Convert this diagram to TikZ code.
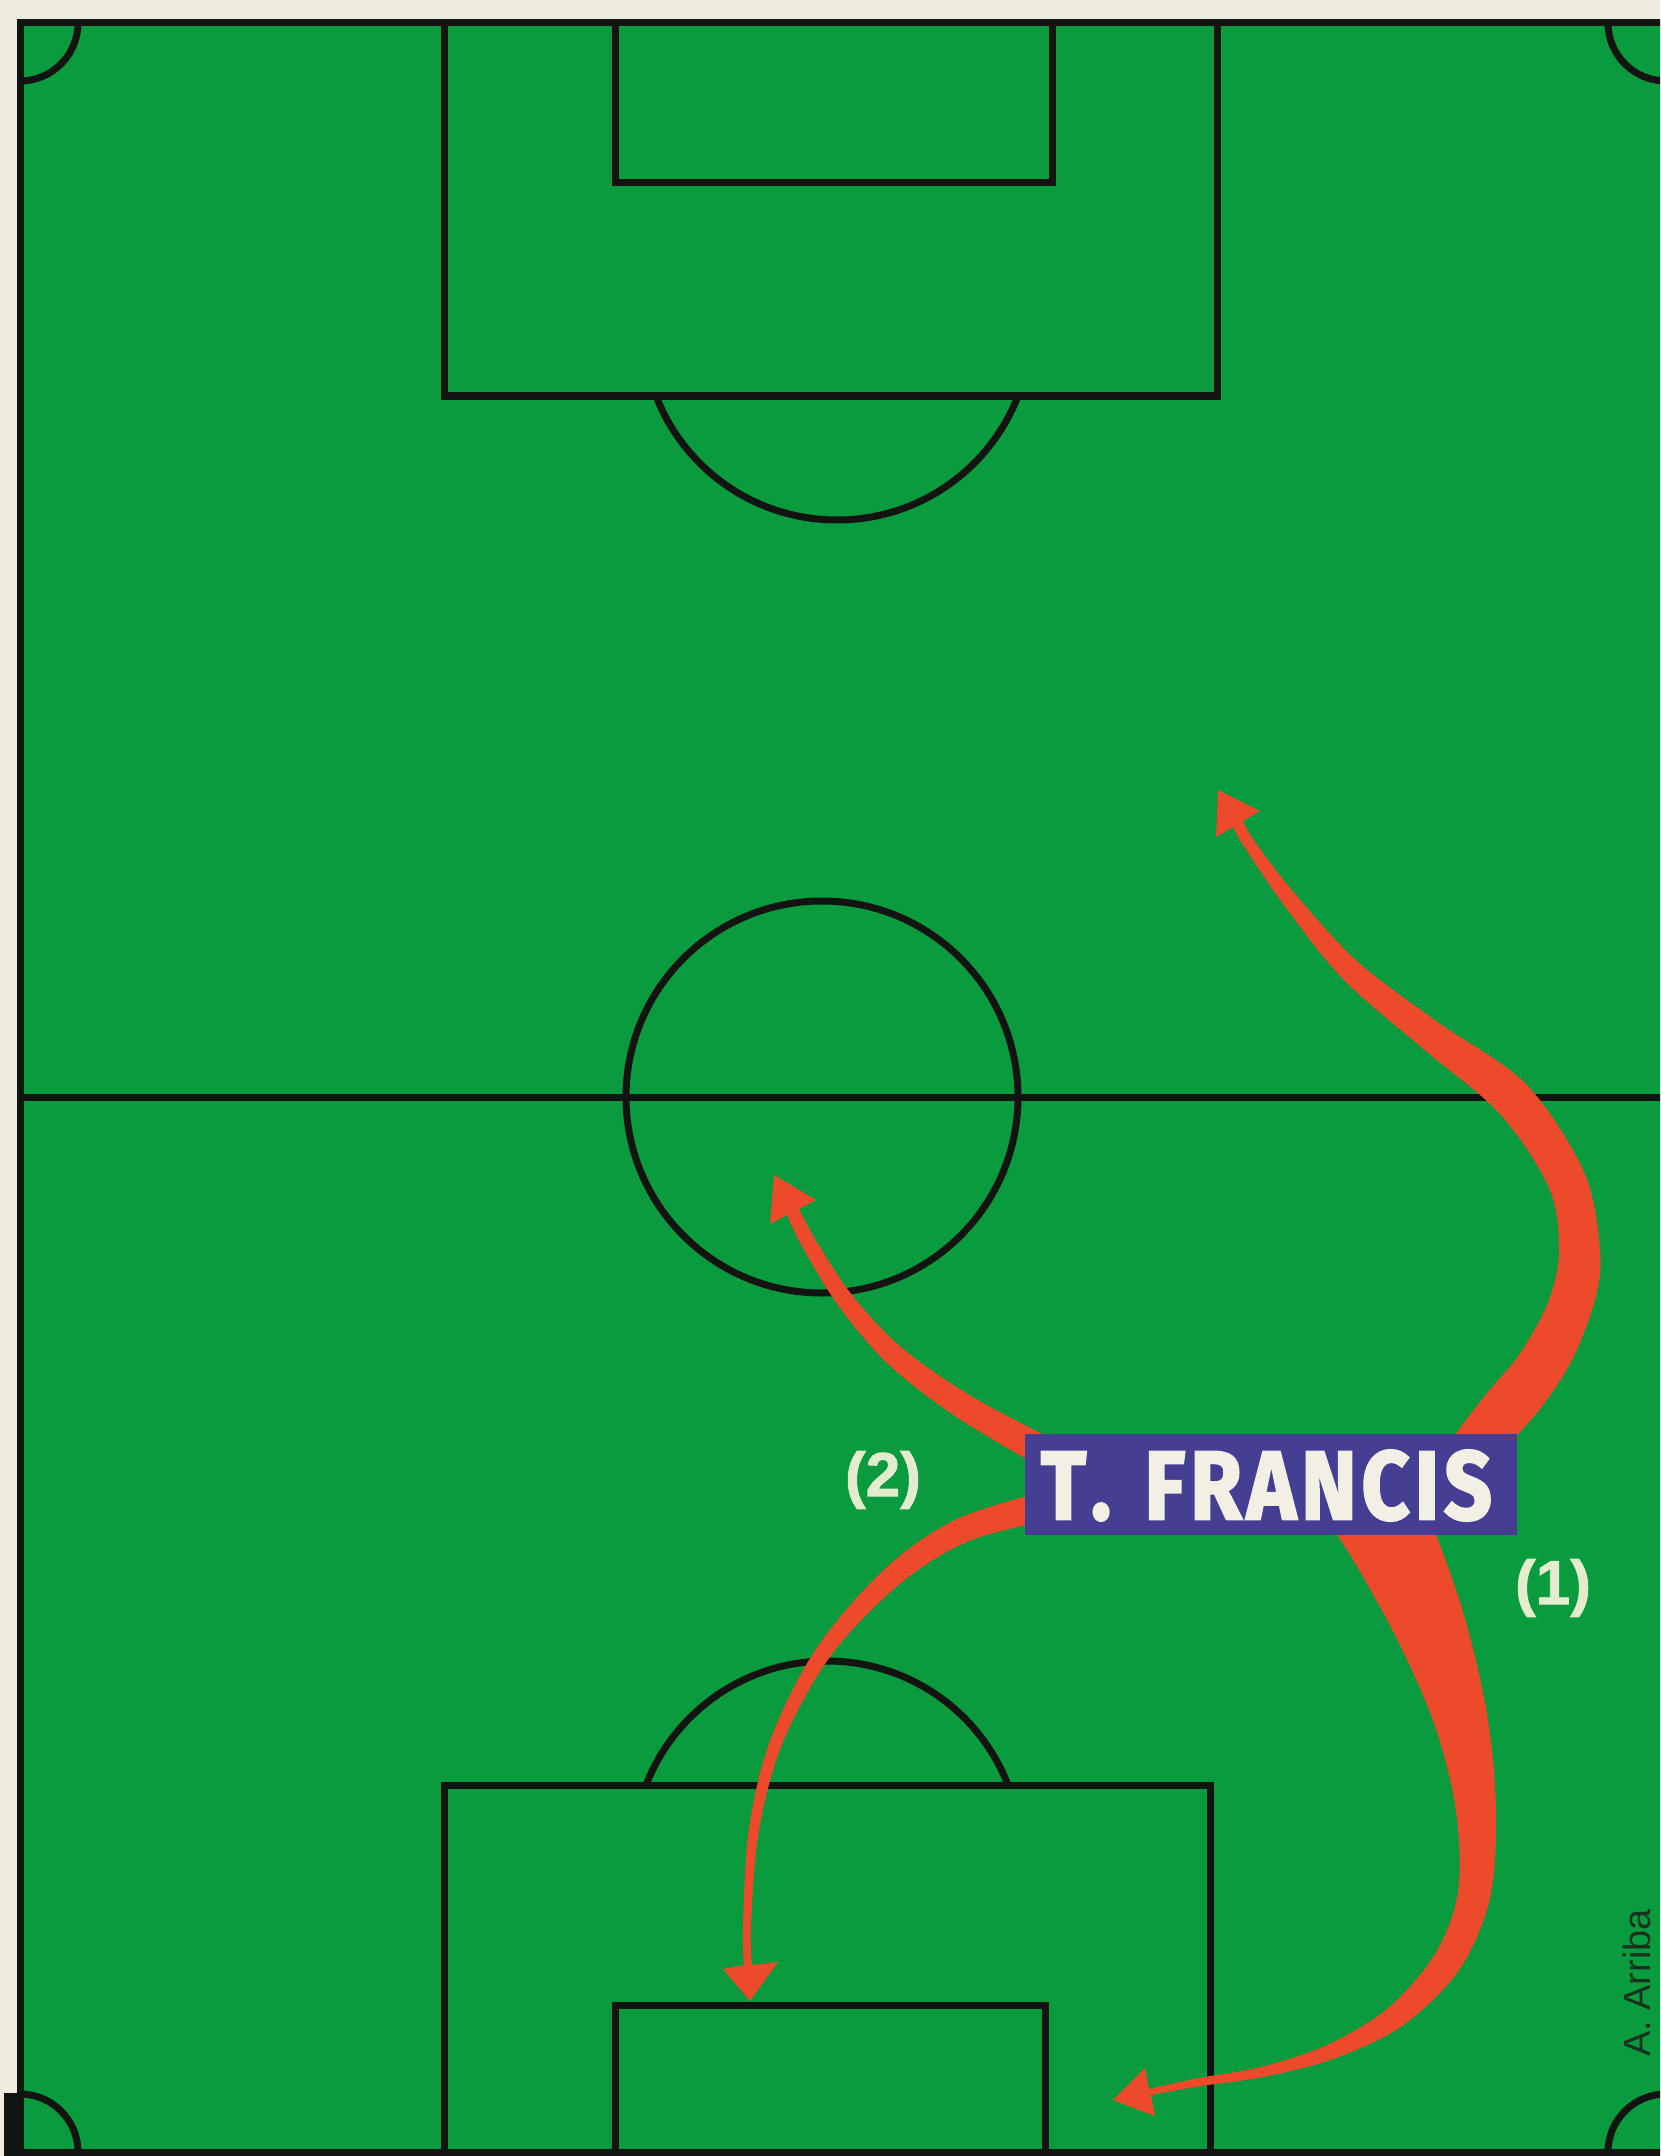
\documentclass[tikz,border=0pt]{standalone}
\usepackage{fontspec}
\setmainfont{Fira Sans}[Numbers=Lining]
\newfontfamily\heavyfont{Fira Sans}[Kerning=Off,FakeBold=2.5,LetterSpace=6]
\newfontfamily\numfont{Liberation Sans}[FakeBold=1.5]
\newfontfamily\creditfont{Liberation Sans}
\usepackage{graphicx}
\definecolor{pitchgreen}{RGB}{9,155,62}
\definecolor{papercream}{RGB}{238,236,222}
\definecolor{lineblack}{RGB}{18,20,18}
\definecolor{arrowred}{RGB}{236,74,42}
\definecolor{boxblue}{RGB}{70,62,146}
\definecolor{labelcream}{RGB}{242,240,228}
\definecolor{numcream}{RGB}{228,236,208}
\definecolor{creditdark}{RGB}{25,50,32}
\begin{document}
\begin{tikzpicture}[x=0.5pt,y=-0.5pt,
  pline/.style={draw=lineblack,line width=3.5pt},
  arrowshape/.style={fill=arrowred},
  namebox/.style={fill=boxblue,minimum width=246pt,minimum height=50.5pt,inner sep=0pt},
  nametext/.style={text=labelcream,inner sep=0pt},
  numlabel/.style={text=numcream,inner sep=0pt,font=\numfont\bfseries\fontsize{31pt}{31pt}\selectfont},
  creditlabel/.style={text=creditdark,inner sep=0pt,font=\creditfont\fontsize{19pt}{19pt}\selectfont}]
\useasboundingbox (0,0) rectangle (1660,2156);
\clip (0,0) rectangle (1660,2156);
% paper and field
\fill[papercream] (0,0) rectangle (1660,2156);
\fill[pitchgreen] (20,23) rectangle (1666,2152);
% corner arcs
\begin{scope}
  \clip (20,23) rectangle (1666,2152);
  \draw[pline] (20,23) circle[radius=58];
  \draw[pline] (1666,23) circle[radius=58];
  \draw[pline] (20,2152) circle[radius=58];
  \draw[pline] (1666,2152) circle[radius=58];
\end{scope}
% outline and halfway line
\draw[pline] (20,23) rectangle (1666,2152);
\fill[lineblack] (4,2093) rectangle (22,2156);
\draw[pline] (20,1097) -- (1666,1097);
\draw[pline] (822,1097) circle[radius=196];
% top penalty area
\draw[pline] (444,23) rectangle (1217,396);
\draw[pline] (615,23) rectangle (1052,183);
\begin{scope}
  \clip (0,396) rectangle (1660,700);
  \draw[pline] (837,326) circle[radius=194];
\end{scope}
% bottom penalty area
\draw[pline] (444,1785) rectangle (1210,2152);
\draw[pline] (615,2005) rectangle (1045,2152);
\begin{scope}
  \clip (0,1500) rectangle (1660,1785);
  \draw[pline] (827,1855) circle[radius=194];
\end{scope}
% arrow (1) upper
\fill[arrowshape] plot[smooth,tension=0.55] coordinates {(1440,1470) (1456,1434) (1488,1392) (1521,1352) (1549,1300) (1559,1250) (1549,1188) (1500,1114) (1421,1047) (1342,978) (1284,905) (1245,848) (1233,827)}
  -- (1216,837) -- (1218,790) -- (1260,811)
  -- plot[smooth,tension=0.55] coordinates {(1243,821) (1255,842) (1296,895) (1358,962) (1439,1023) (1526,1084) (1584,1172) (1600,1250) (1595,1300) (1572,1360) (1543,1405) (1514,1440) (1500,1470)} -- cycle;
% arrow (1) lower
\fill[arrowshape] plot[smooth,tension=0.55] coordinates {(1332,1527) (1355,1563) (1398,1641) (1435,1726) (1456,1811) (1458,1892) (1435,1954) (1388,2008) (1327,2045) (1261,2067) (1199,2078) (1149,2089)}
  -- (1145,2068) -- (1113,2100) -- (1155,2116)
  -- plot[smooth,tension=0.55] coordinates {(1151,2095) (1201,2086) (1263,2077) (1333,2059) (1402,2026) (1459,1970) (1490,1898) (1496,1809) (1487,1714) (1464,1615) (1433,1527) (1412,1483)} -- cycle;
% arrow (2) upper
\fill[arrowshape] plot[smooth,tension=0.55] coordinates {(1042,1468) (955,1416) (887,1363) (838,1305) (803,1248) (787,1215)}
  -- (770,1224) -- (774,1175) -- (816,1200)
  -- plot[smooth,tension=0.55] coordinates {(799,1209) (817,1242) (852,1295) (901,1347) (971,1396) (1058,1442)} -- cycle;
% arrow (2) lower
\fill[arrowshape] plot[smooth,tension=0.55] coordinates {(1046,1491) (957,1519) (887,1567) (818,1646) (771,1738) (749,1828) (743,1925) (744,1965)}
  -- (723,1969) -- (750,2001) -- (778,1962)
  -- plot[smooth,tension=0.55] coordinates {(752,1965) (751,1925) (759,1830) (783,1742) (832,1654) (901,1583) (969,1541) (1054,1519)} -- cycle;
% name box
\node[namebox] (francis) at (1271,1484.5) {};
\node[nametext] (francistext) at (1266.5,1485.5) {\resizebox{225.5pt}{34.5pt}{\heavyfont\bfseries T.\hspace{0.4em}FRANCIS}};
% labels
\node[numlabel] (lab2) at (883,1480) {(2)};
\node[numlabel] (lab1) at (1553,1588) {(1)};
\node[creditlabel,rotate=90,anchor=base] (credit) at (1650,1983) {A. Arriba};
\end{tikzpicture}
\end{document}
